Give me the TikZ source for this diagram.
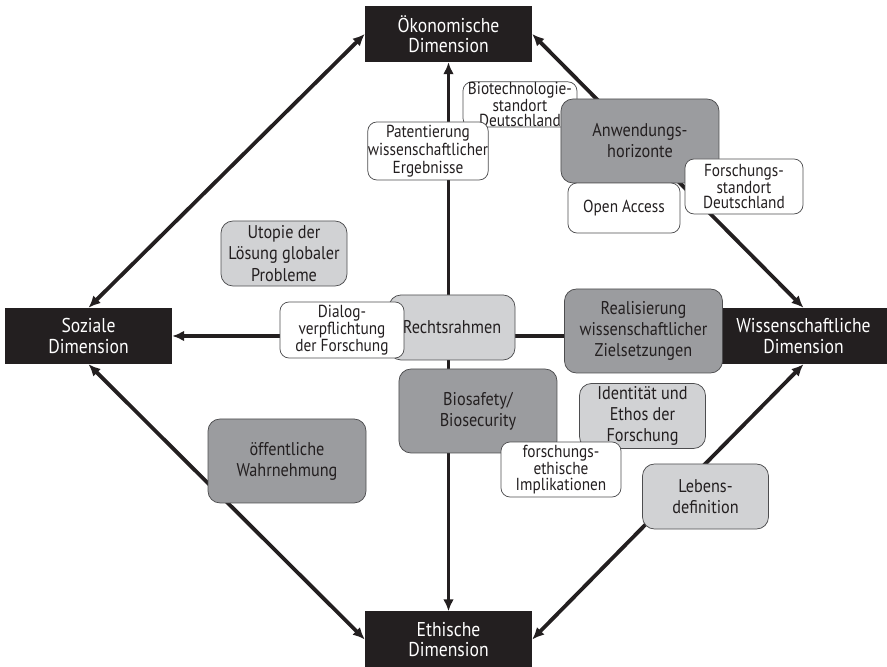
\documentclass[tikz,border=0pt]{standalone}
\usepackage{fontspec}
\setmainfont{PT Sans}[FakeStretch=0.88]
\usepackage{tikz}
\usetikzlibrary{arrows.meta}
\definecolor{boxblack}{HTML}{231F20}
\definecolor{darkfill}{HTML}{9B9C9F}
\definecolor{lightfill}{HTML}{D1D2D4}
\definecolor{boxline}{HTML}{4D4D4F}

\begin{document}
\begin{tikzpicture}[
  dimbox/.style={fill=boxblack, text=white, inner sep=0pt, align=center,
    minimum width=5.567cm, minimum height=1.867cm, font=\fontsize{19}{19.5}\selectfont},
  topic/.style={draw=boxline, line width=0.7pt, rounded corners=0.4cm, inner sep=0pt,
    align=center, text=boxblack, font=\fontsize{17.5}{20}\selectfont},
  darkbox/.style={topic, fill=darkfill, minimum width=5.267cm, minimum height=2.8cm},
  lightbox/.style={topic, fill=lightfill, minimum width=4.2cm, minimum height=2.167cm},
  whitebox/.style={topic, fill=white, rounded corners=0.3cm, font=\fontsize{16.5}{15}\selectfont},
  link/.style={draw=boxblack, line width=3.6pt, >={Latex[length=0.4cm,width=0.36cm]}}
]
\useasboundingbox (0,0) rectangle (29.567,22.233);

% the four dimensions
\node[dimbox] (oeko)   at (14.95,21.1)   {Ökonomische\\Dimension};
\node[dimbox] (ethik)  at (14.95,0.917)  {Ethische\\Dimension};
\node[dimbox] (sozial) at (2.95,11.033)  {Soziale\\Dimension};
\node[dimbox] (wiss)   at (26.783,11.033) {Wissenschaftliche\\Dimension};

\draw[link,<->] (sozial.north) -- (oeko.west);
\draw[link,<->] (oeko.east) -- (wiss.north);
\draw[link,<->] (wiss.south) -- (ethik.east);
\draw[link,<->] (ethik.west) -- (sozial.south);
\draw[link,<->] (oeko) -- (ethik);
\draw[link,<-] (sozial) -- (wiss);

% topics
\node[whitebox, minimum width=3.8cm, minimum height=1.5cm] (biotech) at (17.333,18.75) {Biotechnologie-\\standort\\Deutschland};
\node[whitebox, minimum width=3.333cm, minimum height=1.933cm, font=\fontsize{16.5}{17}\selectfont] (patent) at (14.267,17.2) {Patentierung\\wissenschaftlicher\\Ergebnisse};
\node[darkbox] (anwend) at (21.333,17.533) {Anwendungs-\\horizonte};
\node[whitebox, minimum width=3.733cm, minimum height=1.667cm] (openacc) at (20.8,15.3) {Open Access};
\node[whitebox, minimum width=3.933cm, minimum height=1.833cm] (forschst) at (24.8,16.017) {Forschungs-\\standort\\Deutschland};

\node[lightbox] (utopie) at (9.467,13.783) {Utopie der\\Lösung globaler\\Probleme};
\node[lightbox] (recht) at (15.067,11.317) {Rechtsrahmen};
\node[whitebox, minimum width=4.133cm, minimum height=1.867cm] (dialog) at (11.4,11.233) {Dialog-\\verpflichtung\\der Forschung};
\node[darkbox] (realis) at (21.45,11.2) {Realisierung\\wissenschaftlicher\\Zielsetzungen};

\node[darkbox] (biosafe) at (15.933,8.533) {Biosafety/\\Biosecurity};
\node[lightbox] (ident) at (21.417,8.367) {Identität und\\Ethos der\\Forschung};
\node[whitebox, minimum width=4cm, minimum height=1.833cm] (forschethik) at (18.7,6.583) {forschungs-\\ethische\\Implikationen};
\node[darkbox] (oeffentl) at (9.567,6.867) {öffentliche\\Wahrnehmung};
\node[lightbox] (lebens) at (23.517,5.683) {Lebens-\\definition};

\end{tikzpicture}
\end{document}
